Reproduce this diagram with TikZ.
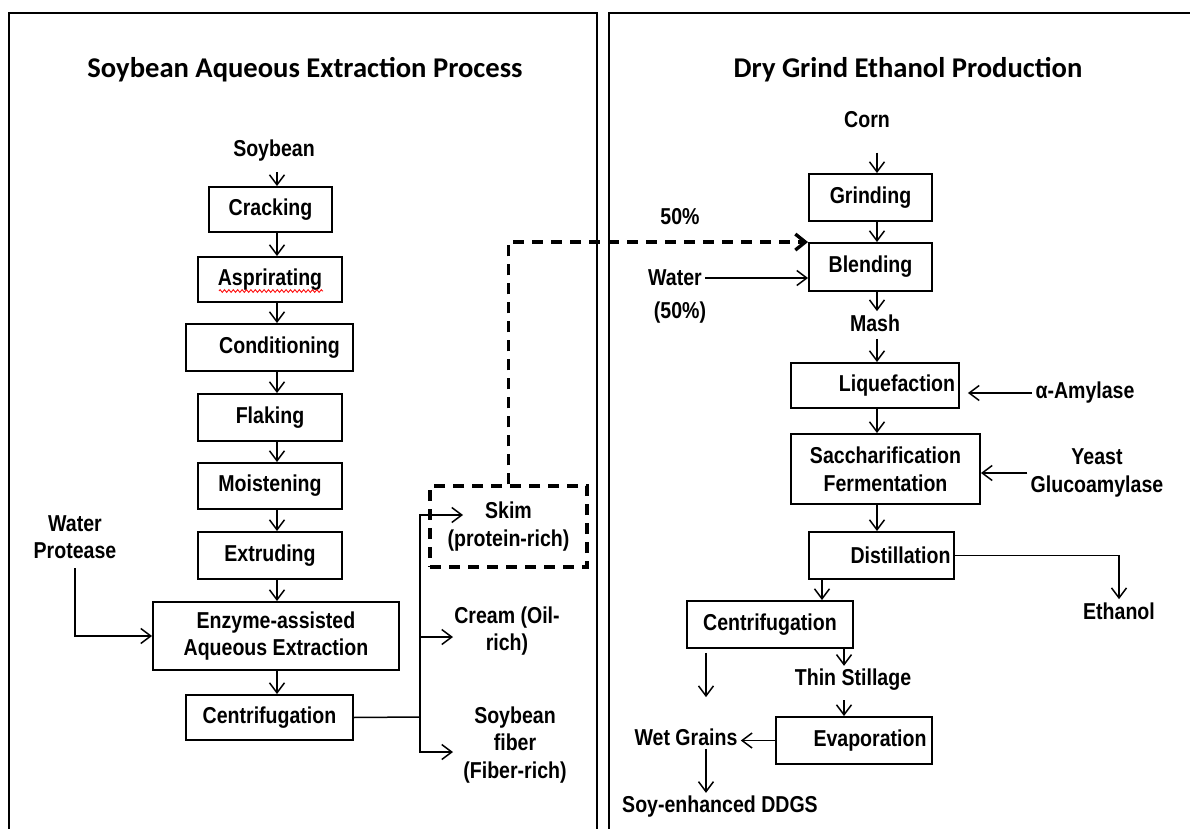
\documentclass[tikz,border=0pt]{standalone}
\usepackage{fontspec}
\usetikzlibrary{arrows.meta,decorations.pathmorphing}
\newfontfamily\lblfont[FakeStretch=0.85]{Liberation Sans}
\newfontfamily\ttlfont{Carlito}
\begin{document}
\begin{tikzpicture}[x=0.5pt,y=-0.5pt,
 lbl/.style={font=\lblfont\bfseries\fontsize{11.5}{13.8}\selectfont, align=center, inner sep=1.5pt},
 box/.style={lbl, draw, line width=0.95pt, inner sep=0pt},
 arr/.style={line width=0.75pt, -{Straight Barb[length=5pt,width=7.5pt]}},
 ln/.style={line width=0.75pt},
 dsh/.style={line width=1.7pt, dash pattern=on 5.5pt off 4pt},
 darr/.style={dsh, -{Straight Barb[length=5pt,width=8pt]}},
 frame/.style={line width=1.1pt},
 ttl/.style={font=\ttlfont\bfseries\fontsize{14.3}{17}\selectfont}]
\useasboundingbox[fill=white] (0,0) rectangle (1190,829);
% frames
\draw[frame] (9,830) -- (9,13) -- (597,13) -- (597,830);
\draw[frame] (609,830) -- (609,13) -- (1191,13);
% titles
\node[ttl] (t1) at (305,70) {Soybean Aqueous Extraction Process};
\node[ttl] (t2) at (908,70) {Dry Grind Ethanol Production};
% helper columns
\coordinate (lc) at (277,0);
\coordinate (rc) at (877,0);
\coordinate (c822) at (822,0);
\coordinate (c844) at (844,0);
\coordinate (c706) at (706,0);
% left process
\node[lbl] (soy) at (274,151) {Soybean};
\node[box, minimum width=61.5pt, minimum height=22.5pt] (crack) at (270.5,209.5) {Cracking};
\node[box, minimum width=72pt, minimum height=22.5pt] (asp) at (270,279.5) {Asprirating};
\node[box, minimum width=83.5pt, minimum height=23.5pt] (cond) at (269.5,347.5) {\hspace*{10pt}Conditioning};
\node[box, minimum width=72pt, minimum height=23.5pt] (flak) at (270,417.5) {Flaking};
\node[box, minimum width=72pt, minimum height=23pt] (moist) at (270,486) {Moistening};
\node[box, minimum width=72pt, minimum height=23.5pt] (extr) at (270,555.5) {Extruding};
\node[box, minimum width=123pt, minimum height=34pt] (enz) at (276,636) {Enzyme-assisted\\Aqueous Extraction};
\node[box, minimum width=83.5pt, minimum height=22.5pt] (cent) at (269.5,717.5) {Centrifugation};
\node[lbl] (water) at (75,537) {Water\\Protease};
\node[lbl, draw, dsh, minimum width=78.5pt, minimum height=40.5pt, inner sep=0pt] (skim) at (508.5,526.5) {Skim\\(protein-rich)};
\node[lbl] (cream) at (507,631) {Cream (Oil-\\rich)};
\node[lbl] (fiber) at (515,745) {Soybean\\fiber\\(Fiber-rich)};
\draw[red, line width=0.4pt, decorate, decoration={zigzag, amplitude=0.7pt, segment length=2.2pt}] (219,291) -- (323,291);
\coordinate (split) at (420,717);
\coordinate (skimin) at (463,515);
\coordinate (creamin) at (453,637);
\coordinate (fiberin) at (453,752);
% left connectors
\draw[arr, shorten <=3.5pt] (soy.south -| lc) -- (crack.north -| lc);
\draw[arr] (crack.south -| lc) -- (asp.north -| lc);
\draw[arr] (asp.south -| lc) -- (cond.north -| lc);
\draw[arr] (cond.south -| lc) -- (flak.north -| lc);
\draw[arr] (flak.south -| lc) -- (moist.north -| lc);
\draw[arr] (moist.south -| lc) -- (extr.north -| lc);
\draw[arr] (extr.south -| lc) -- (enz.north -| lc);
\draw[arr] (enz.south -| lc) -- (cent.north -| lc);
\draw[arr, shorten <=3pt] (water.south) |- (enz.west);
\draw[ln] (cent.east) -- (split);
\draw[arr] (split) |- (skimin);
\draw[arr] (split) |- (creamin);
\draw[arr] (split) |- (fiberin);
% right process
\node[lbl] (corn) at (867,120) {Corn};
\node[box, minimum width=61.5pt, minimum height=23.5pt] (grind) at (870.5,197.5) {Grinding};
\node[box, minimum width=61.5pt, minimum height=24pt] (blend) at (870.5,267) {Blending};
\node[lbl] (p50) at (680,217) {50\%};
\node[lbl] (water2) at (675,278) {Water};
\node[lbl] (p50b) at (680,313) {(50\%)};
\node[lbl] (mash) at (875,323) {Mash};
\node[box, minimum width=84pt, minimum height=22.5pt] (liq) at (875,385.5) {\hspace*{22pt}Liquefaction};
\node[lbl] (amyl) at (1085,393) {α-Amylase};
\node[box, minimum width=94.5pt, minimum height=35pt] (sacc) at (885.5,469) {Saccharification\\Fermentation};
\node[lbl] (yeast) at (1097,473) {Yeast\\Glucoamylase};
\node[box, minimum width=72.5pt, minimum height=23.5pt] (dist) at (881.5,555.5) {\hspace*{19pt}Distillation};
\node[lbl] (eth) at (1119,611) {Ethanol};
\node[box, minimum width=83pt, minimum height=23.5pt] (rcent) at (770,624.5) {Centrifugation};
\node[lbl] (thin) at (853,680) {Thin Stillage};
\node[box, minimum width=78pt, minimum height=23.5pt] (evap) at (854,740.5) {\hspace*{16pt}Evaporation};
\node[lbl] (wet) at (686,737) {Wet Grains};
\node[lbl] (ddgs) at (720,807) {Soy-enhanced DDGS};
% right connectors
\draw[darr] (skim.north) |- (blend.north west);
\draw[arr, shorten <=10.5pt] (corn.south -| rc) -- (grind.north -| rc);
\draw[arr] (grind.south -| rc) -- (blend.north -| rc);
\draw[arr] (water2.east) -- (water2.east -| blend.west);
\draw[arr] (blend.south -| rc) -- (mash.north -| rc);
\draw[arr, shorten <=2pt] (mash.south -| rc) -- (liq.north -| rc);
\draw[arr, shorten >=4pt] (amyl.west) -- (amyl.west -| liq.east);
\draw[arr] (liq.south -| rc) -- (sacc.north -| rc);
\draw[arr] (yeast.west) -- (yeast.west -| sacc.east);
\draw[arr] (sacc.south -| rc) -- (dist.north -| rc);
\draw[arr] (dist.east) -| (eth.north);
\draw[arr] (dist.south -| c822) -- (rcent.north -| c822);
\draw[arr] (rcent.south -| c844) -- (thin.north -| c844);
\draw[arr, shorten <=3pt] (thin.south -| c844) -- (evap.north -| c844);
\draw[arr, shorten <=2pt, shorten >=14pt] (rcent.south -| c706) -- (wet.north -| c706);
\draw[arr] (evap.west) -- (evap.west -| wet.east);
\draw[arr] (wet.south -| c706) -- (ddgs.north -| c706);
\end{tikzpicture}
\end{document}
